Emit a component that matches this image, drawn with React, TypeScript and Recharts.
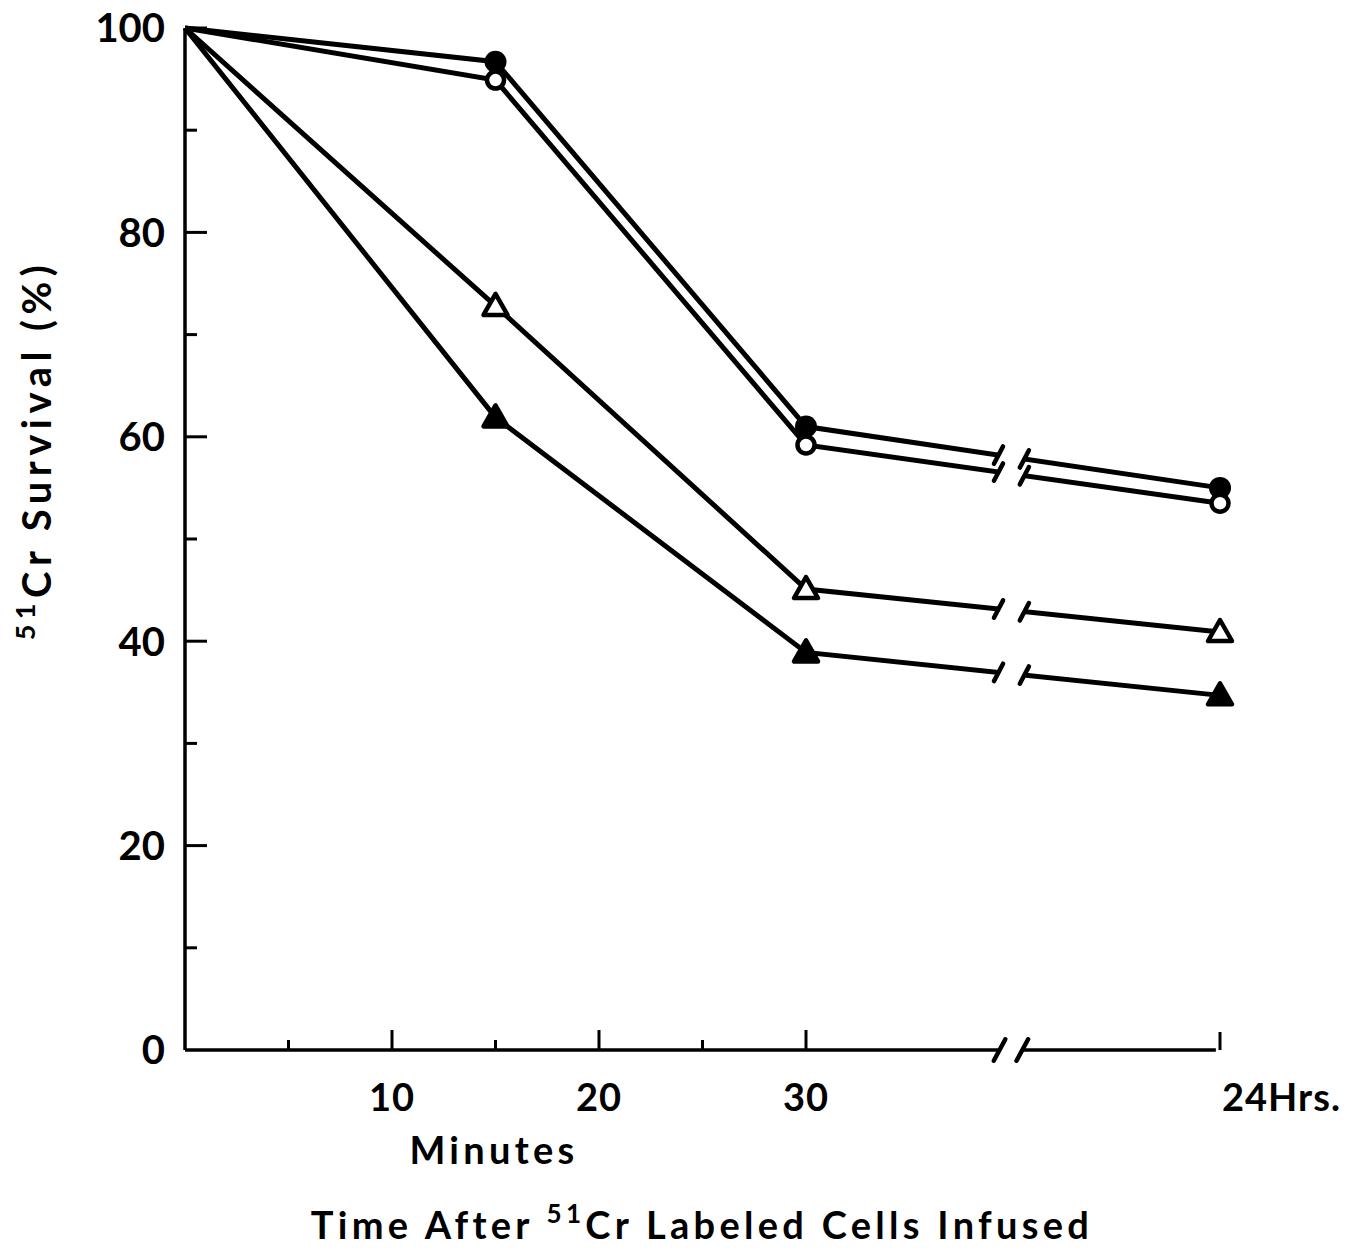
import { LineChart, Line, XAxis, YAxis, ReferenceArea, ReferenceLine } from 'recharts';

// x position 50 stands for the 24 Hrs point after the axis break
const minutes = [0, 15, 30, 50];
const filledCircle = [100, 96.7, 61.0, 55.0];
const openCircle = [100, 94.9, 59.2, 53.5];
const openTriangle = [100, 72.8, 45.1, 40.9];
const filledTriangle = [100, 61.9, 38.9, 34.7];

const xTicks = [5, 10, 15, 20, 25, 30, 50];
const yTicks = [0, 10, 20, 30, 40, 50, 60, 70, 80, 90, 100];

const BREAK_L = 39.3;
const BREAK_R = 40.55;
const FONT = 'Lato, "DejaVu Sans", sans-serif';

const data = minutes.map((m, i) => ({
  t: m,
  fc: filledCircle[i],
  oc: openCircle[i],
  ot: openTriangle[i],
  ft: filledTriangle[i],
}));

const seriesList = [
  { key: 'fc', values: filledCircle, marker: 'filledCircle' },
  { key: 'oc', values: openCircle, marker: 'openCircle' },
  { key: 'ot', values: openTriangle, marker: 'openTriangle' },
  { key: 'ft', values: filledTriangle, marker: 'filledTriangle' },
];

// y of a series on its 30 min -> 24 hr segment, used to place the break slashes
const yOnLast = (values: number[], x: number) =>
  values[2] + ((values[3] - values[2]) * (x - minutes[2])) / (minutes[3] - minutes[2]);

const makeDot = (marker: string) => (props: any) => {
  const { cx, cy, index } = props;
  if (index === 0 || cx == null) return <g key={`d-${marker}-${index}`} />;
  const k = `d-${marker}-${index}`;
  if (marker === 'filledCircle') return <circle key={k} cx={cx} cy={cy} r={11} fill="#000" />;
  if (marker === 'openCircle')
    return <circle key={k} cx={cx} cy={cy} r={8.5} fill="#fff" stroke="#000" strokeWidth={4.5} />;
  const pts = `${cx},${cy - 12} ${cx - 12},${cy + 9} ${cx + 12},${cy + 9}`;
  return (
    <polygon
      key={k}
      points={pts}
      fill={marker === 'filledTriangle' ? '#000' : '#fff'}
      stroke="#000"
      strokeWidth={4.5}
      strokeLinejoin="round"
    />
  );
};

const XTick = (props: any) => {
  const { x, y, payload } = props;
  const v = payload.value;
  const major = v % 10 === 0;
  const len = v === 50 ? 18 : major ? 20 : 10;
  const label = v === 50 ? '24Hrs.' : major ? String(v) : '';
  return (
    <g>
      <line x1={x} y1={y} x2={x} y2={y - len} stroke="#000" strokeWidth={3} />
      {label && (
        <text
          x={v === 50 ? x + 2 : x}
          y={y + 61}
          textAnchor={v === 50 ? 'start' : 'middle'}
          fontFamily={FONT}
          fontWeight={700}
          fontSize={38}
          letterSpacing={1}
          fill="#000"
        >
          {label}
        </text>
      )}
    </g>
  );
};

const YTick = (props: any) => {
  const { x, y, payload } = props;
  const v = payload.value;
  const major = v % 20 === 0;
  return (
    <g>
      {v > 0 && <line x1={x} y1={y} x2={x + (major ? 22 : 12)} y2={y} stroke="#000" strokeWidth={3} />}
      {major && (
        <text
          x={x - 20}
          y={y}
          dy="0.36em"
          textAnchor="end"
          fontFamily={FONT}
          fontWeight={700}
          fontSize={40}
          fill="#000"
        >
          {v}
        </text>
      )}
    </g>
  );
};

const xLabels = () => (
  <g fontFamily={FONT} fontWeight={700} fill="#000">
    <text x={494} y={1164} textAnchor="middle" fontSize={38} letterSpacing={4.3}>
      Minutes
    </text>
    <text x={702} y={1239} textAnchor="middle" fontSize={38} letterSpacing={4.3}>
      Time After <tspan fontSize={26} dy={-16}>51</tspan>
      <tspan dy={16}>Cr Labeled Cells Infused</tspan>
    </text>
  </g>
);

const yLabel = () => (
  <text
    transform="rotate(-90, 38, 450)"
    x={38}
    y={463}
    textAnchor="middle"
    fontFamily={FONT}
    fontWeight={700}
    fontSize={40}
    letterSpacing={5.5}
    fill="#000"
  >
    <tspan fontSize={27} dy={-16}>51</tspan>
    <tspan dy={16}>Cr Survival (%)</tspan>
  </text>
);

export default function App() {
  return (
    <div style={{ position: 'absolute', left: 0, top: 0, width: 1350, height: 1250, background: '#fff' }}>
      <LineChart width={1350} height={1250} data={data} margin={{ top: 28, right: 130, left: 0, bottom: 0 }}>
        <XAxis
          dataKey="t"
          type="number"
          domain={[0, 50]}
          ticks={xTicks}
          interval={0}
          axisLine={false}
          tickLine={false}
          tickSize={0}
          tickMargin={0}
          height={200}
          tick={<XTick />}
          label={{ content: xLabels }}
        />
        <YAxis
          type="number"
          domain={[0, 100]}
          ticks={yTicks}
          interval={0}
          width={185}
          axisLine={{ stroke: '#000', strokeWidth: 3.5 }}
          tickLine={false}
          tickSize={0}
          tickMargin={0}
          tick={<YTick />}
          label={{ content: yLabel }}
        />
        {seriesList.map((s) => (
          <Line
            key={s.key}
            dataKey={s.key}
            stroke="#000"
            strokeWidth={5}
            dot={makeDot(s.marker)}
            activeDot={false}
            isAnimationActive={false}
          />
        ))}
        {/* white gap for the axis break across the series */}
        <ReferenceArea
          x1={BREAK_L}
          x2={BREAK_R}
          y1={30}
          y2={62}
          fill="#fff"
          fillOpacity={1}
          stroke="none"
          zIndex={1000}
        />
        {/* x axis line in two parts */}
        <ReferenceLine segment={[{ x: 0, y: 0 }, { x: 39.35, y: 0 }]} stroke="#000" strokeWidth={3.5} ifOverflow="visible" zIndex={1100} />
        <ReferenceLine segment={[{ x: 40.45, y: 0 }, { x: 49.8, y: 0 }]} stroke="#000" strokeWidth={3.5} ifOverflow="visible" zIndex={1100} />
        <ReferenceLine segment={[{ x: 39.07, y: -1.05 }, { x: 39.63, y: 1.05 }]} stroke="#000" strokeWidth={4.5} strokeLinecap="round" ifOverflow="visible" zIndex={1100} />
        <ReferenceLine segment={[{ x: 40.17, y: -1.05 }, { x: 40.73, y: 1.05 }]} stroke="#000" strokeWidth={4.5} strokeLinecap="round" ifOverflow="visible" zIndex={1100} />
        {/* break slashes on each series */}
        {seriesList.flatMap((s) =>
          [BREAK_L, BREAK_R].map((bx) => {
            const by = yOnLast(s.values, bx);
            return (
              <ReferenceLine
                key={`${s.key}-${bx}`}
                segment={[{ x: bx - 0.22, y: by - 0.85 }, { x: bx + 0.22, y: by + 0.85 }]}
                stroke="#000"
                strokeWidth={4.5}
                strokeLinecap="round"
                ifOverflow="visible"
                zIndex={1100}
              />
            );
          })
        )}
      </LineChart>
    </div>
  );
}
